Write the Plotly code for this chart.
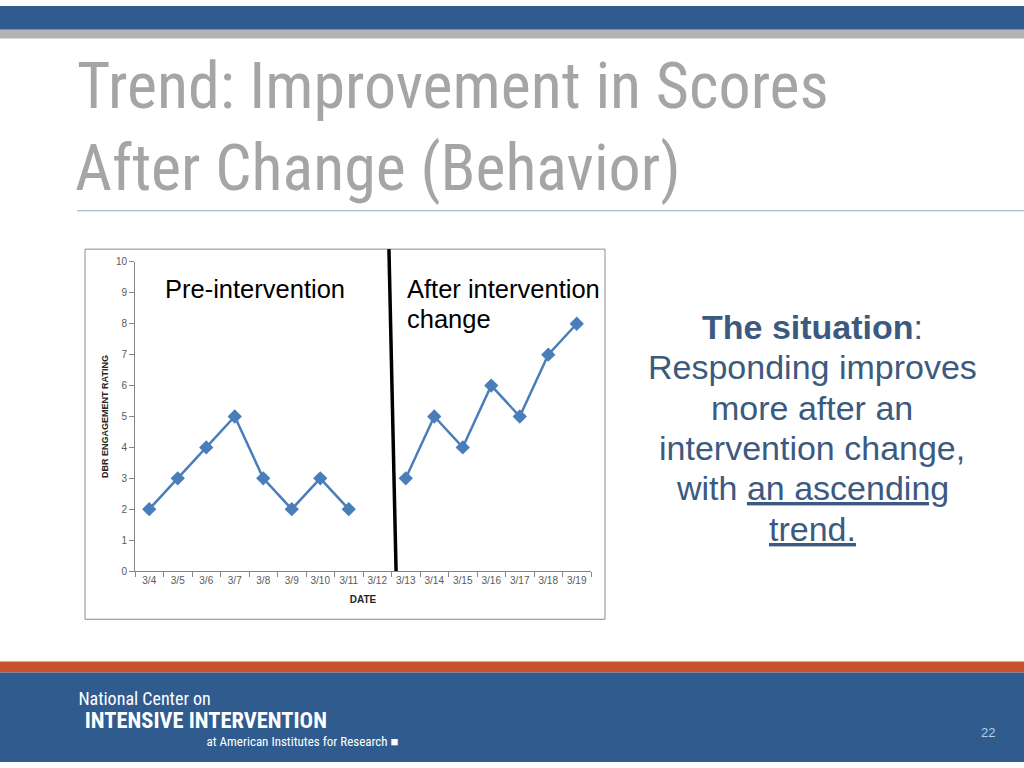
import json
import plotly.graph_objects as go

# ---- data ----
dates = ["3/4", "3/5", "3/6", "3/7", "3/8", "3/9", "3/10", "3/11", "3/12",
         "3/13", "3/14", "3/15", "3/16", "3/17", "3/18", "3/19"]
pre_dates = ["3/4", "3/5", "3/6", "3/7", "3/8", "3/9", "3/10", "3/11"]
pre_values = [2, 3, 4, 5, 3, 2, 3, 2]
post_dates = ["3/13", "3/14", "3/15", "3/16", "3/17", "3/18", "3/19"]
post_values = [3, 5, 4, 6, 5, 7, 8]
y_ticks = [0, 1, 2, 3, 4, 5, 6, 7, 8, 9, 10]

W, H = 1024, 768
def px(x):
    return x / W
def py(y):
    return 1 - y / H

LINE_BLUE = "#4A7EBB"
TITLE_GREY = "#A5A5A5"
TEXT_BLUE = "#3C5A80"
BAR_BLUE = "#2F5B8F"
TICK_FONT = dict(size=10, color="#595959", family="Liberation Sans, Arial, sans-serif")

fig = go.Figure()
for xs, ys in [(pre_dates, pre_values), (post_dates, post_values)]:
    fig.add_trace(go.Scatter(
        x=xs, y=ys, mode="lines+markers",
        line=dict(color=LINE_BLUE, width=2.5),
        marker=dict(symbol="diamond", size=11, color=LINE_BLUE),
        showlegend=False, hoverinfo="x+y"))

fig.update_layout(
    width=W, height=H,
    margin=dict(l=0, r=0, t=0, b=0),
    paper_bgcolor="white", plot_bgcolor="white",
    font=dict(family="Liberation Sans, Arial, sans-serif"),
    xaxis=dict(
        type="category", categoryorder="array", categoryarray=dates,
        range=[-0.5, len(dates) - 0.5],
        domain=[px(135), px(591)],
        showline=True, linecolor="#868686", linewidth=1,
        ticks="outside", tickson="boundaries", ticklen=5, tickcolor="#868686",
        tickangle=0,
        showgrid=False, zeroline=False,
        tickfont=TICK_FONT,
        title=dict(text="<b>DATE</b>", font=dict(size=10, color="#262626"), standoff=10),
        fixedrange=True,
    ),
    yaxis=dict(
        range=[0, 10], tickvals=y_ticks,
        domain=[py(574), py(260)],
        showline=True, linecolor="#868686", linewidth=1,
        ticks="outside", ticklen=5, tickcolor="#868686",
        showgrid=False, zeroline=False,
        tickfont=TICK_FONT,
        title=dict(text="<b>DBR ENGAGEMENT RATING</b>", font=dict(size=9, color="#262626"), standoff=5),
        fixedrange=True,
    ),
)

shapes = [
    # top bars
    dict(type="rect", xref="paper", yref="paper", x0=0, x1=1, y0=py(24), y1=1,
         fillcolor=BAR_BLUE, line=dict(width=0), layer="below"),
    dict(type="rect", xref="paper", yref="paper", x0=0, x1=1, y0=py(33), y1=py(24),
         fillcolor="#B3B3B3", line=dict(width=0), layer="below"),
    # title rule
    dict(type="line", xref="paper", yref="paper", x0=px(77), x1=1, y0=py(208), y1=py(208),
         line=dict(color="#9AAAC4", width=1)),
    # chart box
    dict(type="rect", xref="paper", yref="paper", x0=px(85), x1=px(605), y0=py(623), y1=py(247),
         line=dict(color="#8C8C8C", width=1), fillcolor="rgba(0,0,0,0)"),
    # intervention divider
    dict(type="line", xref="x", yref="paper", x0=8.41, x1=8.66, y0=py(247), y1=py(574),
         line=dict(color="black", width=3.5)),
    # footer bands
    dict(type="rect", xref="paper", yref="paper", x0=0, x1=1, y0=py(677), y1=py(666),
         fillcolor="#C8532E", line=dict(width=0), layer="below"),
    dict(type="rect", xref="paper", yref="paper", x0=0, x1=1, y0=0, y1=py(677),
         fillcolor=BAR_BLUE, line=dict(width=0), layer="below"),
]
fig.update_layout(shapes=shapes)

NARROW = "Roboto, Liberation Sans, sans-serif"
ann = []
stretch = []

def add(a, st=""):
    stretch.append(st)
    ann.append(a)

# title (condensed; centred so that it stays in place after narrowing)
add(dict(text="Trend: Improvement in Scores", x=px(453), y=py(82), xanchor="center", yanchor="middle",
         font=dict(family=NARROW, size=64, color=TITLE_GREY)), "75%")
add(dict(text="After Change (Behavior)", x=px(378), y=py(165), xanchor="center", yanchor="middle",
         font=dict(family=NARROW, size=64, color=TITLE_GREY)), "75%")
# chart labels
add(dict(text="Pre-intervention", x=px(163), y=py(287), xanchor="left", yanchor="middle",
         font=dict(size=25.5, color="black")))
add(dict(text="After intervention", x=px(405), y=py(287), xanchor="left", yanchor="middle",
         font=dict(size=25.5, color="black")))
add(dict(text="change", x=px(405), y=py(318), xanchor="left", yanchor="middle",
         font=dict(size=25.5, color="black")))
# right text
right_lines = [
    "<b>The situation</b>:",
    "Responding improves",
    "more after an",
    "intervention change,",
    "with <u>an ascending</u>",
    "<u>trend.</u>",
]
for i, t in enumerate(right_lines):
    add(dict(text=t, x=px(812), y=py(326 + 41 * i), xanchor="center", yanchor="middle",
             font=dict(size=34, color=TEXT_BLUE)))
# footer
add(dict(text="National Center on", x=px(144), y=py(703), xanchor="center", yanchor="middle",
         font=dict(family=NARROW, size=18, color="white")), "75%")
add(dict(text="<b>INTENSIVE INTERVENTION</b>", x=px(206), y=py(725), xanchor="center", yanchor="middle",
         font=dict(family=NARROW, size=22.5, color="white")), "86%")
add(dict(text="at American Institutes for Research \u25A0", x=px(302), y=py(747), xanchor="center", yanchor="middle",
         font=dict(family=NARROW, size=13, color="white")), "75%")
add(dict(text="22", x=px(988), y=py(738), xanchor="center", yanchor="middle",
         font=dict(size=13, color="#B8CBE3")))
for a in ann:
    a.update(xref="paper", yref="paper", showarrow=False)
fig.update_layout(annotations=ann)

js = ("document.documentElement.style.margin='0';document.documentElement.style.overflow='hidden';"
      "document.body.style.margin='0';document.body.style.padding='0';document.body.style.overflow='hidden';"
      "var gd=document.getElementById('{plot_id}');"
      "gd.style.position='absolute';gd.style.left='0px';gd.style.top='0px';"
      "var st=" + json.dumps(stretch) + ";"
      "document.querySelectorAll('text.annotation-text').forEach(function(t,i){"
      "if(st[i]){t.style.fontStretch=st[i];}});")
fig.write_html("out.html", post_script=js, config={"displayModeBar": False})
